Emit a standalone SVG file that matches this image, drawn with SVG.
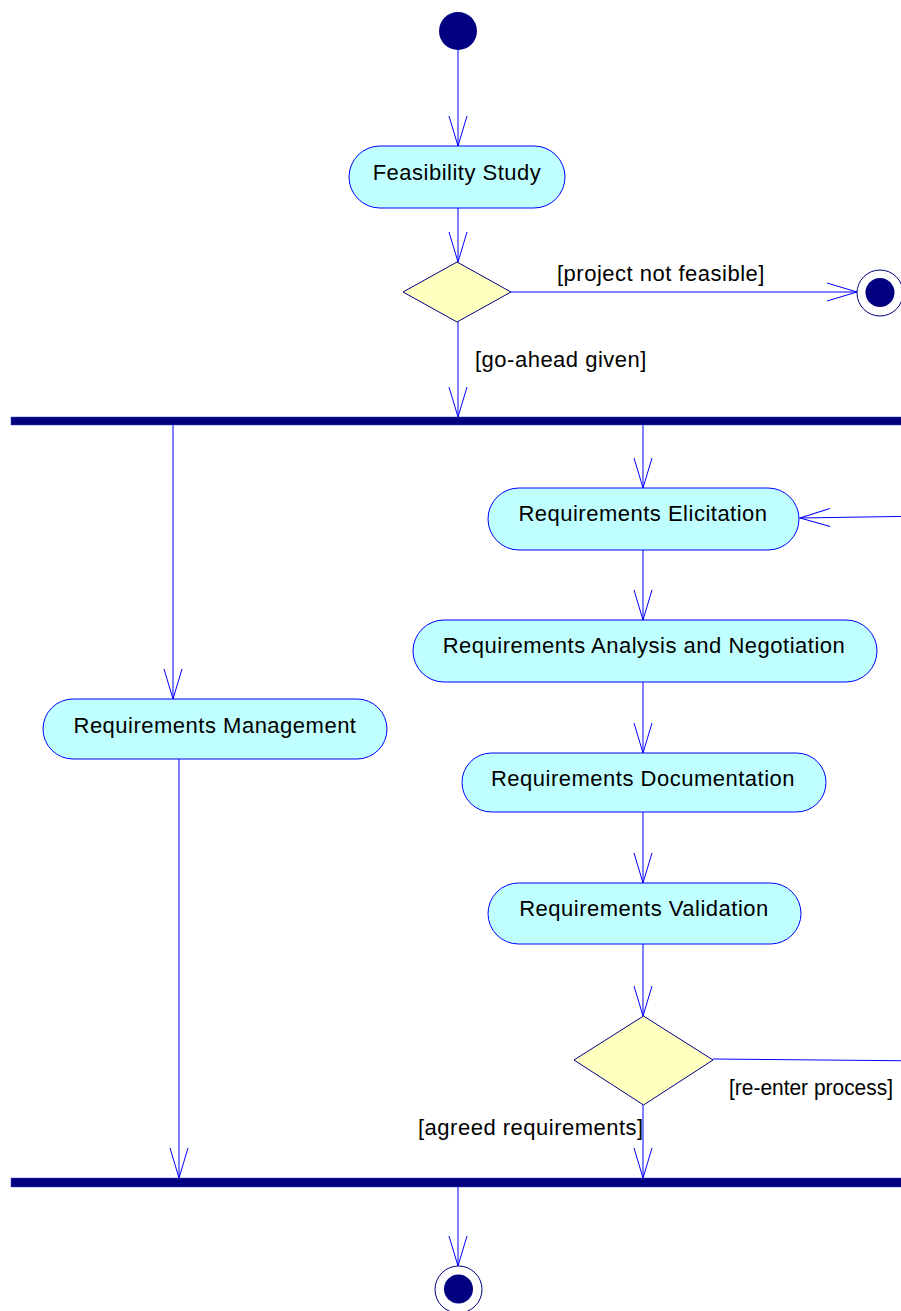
<svg xmlns="http://www.w3.org/2000/svg" width="901" height="1311" viewBox="0 0 901 1311">
<style>
  .act { fill: #C0FFFF; stroke: #0000FF; stroke-width: 1; }
  .dec { fill: #FFFFC0; stroke: #000080; stroke-width: 1; }
  .bar { fill: #000080; stroke: #4040C0; stroke-width: 0.5; }
  .solid { fill: #000080; }
  .ring { fill: #FFFFFF; stroke: #000080; stroke-width: 1; }
  .conn { fill: none; stroke: #0000FF; stroke-width: 1; marker-end: url(#arrow); }
  .lbl { font-family: "Liberation Sans", Arial, sans-serif; font-size: 22px; letter-spacing: 0.5px; fill: #000000; }
  .mid { text-anchor: middle; }
</style>
<defs>
  <marker id="arrow" markerUnits="userSpaceOnUse" viewBox="-32 -11 34 22" refX="0" refY="0" markerWidth="34" markerHeight="22" orient="auto">
    <path d="M-30,-9 L0,0 L-30,9" fill="none" stroke="#0000FF" stroke-width="1"/>
  </marker>
</defs>
<rect width="901" height="1311" fill="#FFFFFF"/>

<g id="connectors">
  <line class="conn" x1="458" y1="50" x2="458" y2="146"/>
  <line class="conn" x1="458" y1="208" x2="458" y2="262"/>
  <line class="conn" x1="511" y1="292" x2="857" y2="292"/>
  <line class="conn" x1="458" y1="322" x2="458" y2="417"/>
  <line class="conn" x1="173" y1="425" x2="173" y2="699"/>
  <line class="conn" x1="643" y1="425" x2="643" y2="488"/>
  <line class="conn" x1="643" y1="550" x2="643" y2="620"/>
  <line class="conn" x1="643" y1="682" x2="643" y2="753"/>
  <line class="conn" x1="643" y1="812" x2="643" y2="883"/>
  <line class="conn" x1="643" y1="944" x2="643" y2="1016"/>
  <line class="conn" x1="643" y1="1105" x2="643" y2="1178"/>
  <line class="conn" x1="179" y1="759" x2="179" y2="1178"/>
  <line class="conn" x1="458" y1="1187" x2="458" y2="1266"/>
  <path class="conn" d="M713,1059 L930,1061 L930,516 L800,518"/>
  <text class="lbl" x="557" y="281">[project not feasible]</text>
  <text class="lbl" x="475" y="367">[go-ahead given]</text>
  <text class="lbl" x="418" y="1135">[agreed requirements]</text>
  <text class="lbl" x="729" y="1095" style="letter-spacing:0px" textLength="164" lengthAdjust="spacingAndGlyphs">[re-enter process]</text>
</g>

<g id="start">
  <circle class="solid" cx="458" cy="31" r="19"/>
</g>

<g id="feasibility">
  <rect class="act" x="349" y="146" width="216" height="62" rx="31" ry="31"/>
  <text class="lbl mid" x="457" y="180">Feasibility Study</text>
</g>

<g id="decision1">
  <polygon class="dec" points="457,262 511,292 457,322 403,292"/>
</g>

<g id="end1">
  <circle class="ring" cx="880" cy="293" r="23"/>
  <circle class="solid" cx="880" cy="292.5" r="14.5"/>
</g>

<g id="fork">
  <rect class="bar" x="11" y="417" width="895" height="8"/>
</g>

<g id="management">
  <rect class="act" x="43" y="699" width="344" height="60" rx="30" ry="30"/>
  <text class="lbl mid" x="215" y="733">Requirements Management</text>
</g>

<g id="elicitation">
  <rect class="act" x="488" y="488" width="311" height="62" rx="31" ry="31"/>
  <text class="lbl mid" x="643" y="521">Requirements Elicitation</text>
</g>

<g id="analysis">
  <rect class="act" x="413" y="620" width="464" height="62" rx="31" ry="31"/>
  <text class="lbl mid" x="644" y="653">Requirements Analysis and Negotiation</text>
</g>

<g id="documentation">
  <rect class="act" x="462" y="753" width="364" height="59" rx="29.5" ry="29.5"/>
  <text class="lbl mid" x="643" y="786">Requirements Documentation</text>
</g>

<g id="validation">
  <rect class="act" x="488" y="883" width="313" height="61" rx="30.5" ry="30.5"/>
  <text class="lbl mid" x="644" y="916">Requirements Validation</text>
</g>

<g id="decision2">
  <polygon class="dec" points="643.5,1016 713,1060 643.5,1105 574,1060"/>
</g>

<g id="join">
  <rect class="bar" x="11" y="1178" width="895" height="9"/>
</g>

<g id="end2">
  <circle class="ring" cx="458.5" cy="1289.5" r="23.5"/>
  <circle class="solid" cx="458.5" cy="1289" r="14.5"/>
</g>
</svg>
